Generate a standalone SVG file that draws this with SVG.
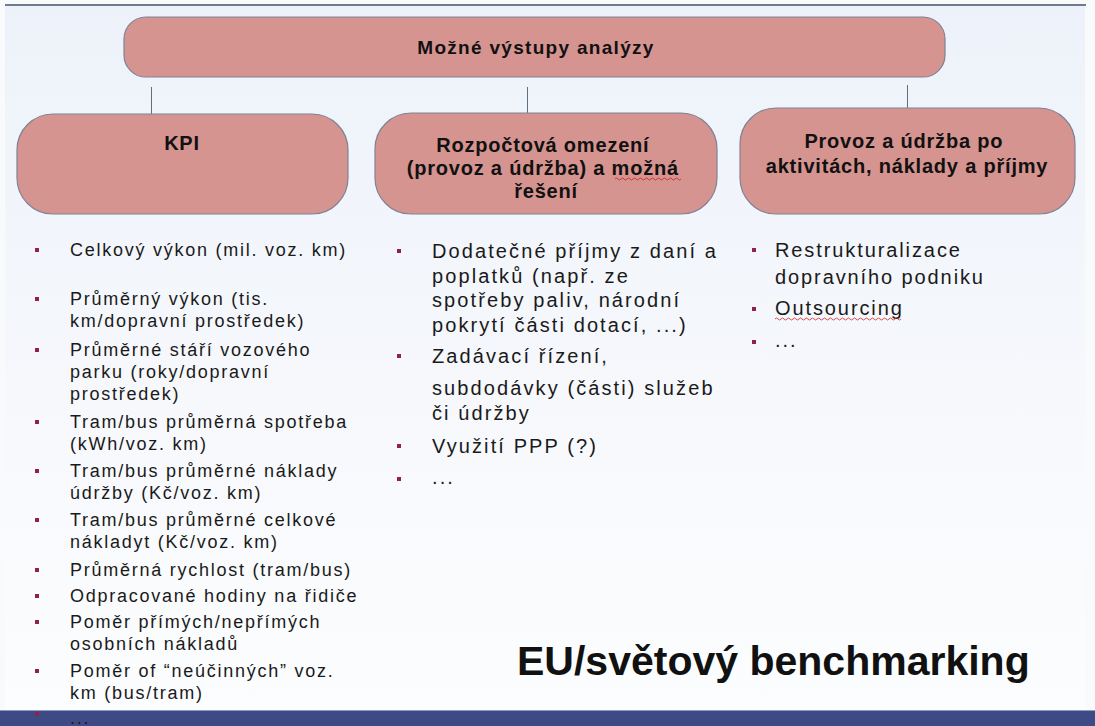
<svg xmlns="http://www.w3.org/2000/svg" width="1095" height="726" viewBox="0 0 1095 726">
  <defs>
    <linearGradient id="bg" x1="0" y1="0" x2="0" y2="1">
      <stop offset="0" stop-color="#edf2fa"/>
      <stop offset="0.55" stop-color="#f6f8fc"/>
      <stop offset="1" stop-color="#fcfdfe"/>
    </linearGradient>
    <style>
      .box { fill: #d69490; stroke: #7f8294; stroke-width: 1.2; }
      .conn { stroke: #5f6f80; stroke-width: 1; fill: none; }
      .head { font-family: "Liberation Sans", Arial, sans-serif; font-weight: bold; fill: #111; text-anchor: middle; font-size: 20px; letter-spacing: 0.8px; }
      .item { font-family: "Liberation Sans", Arial, sans-serif; fill: #1a1a1a; }
      .kpi { font-size: 18px; letter-spacing: 1.75px; }
      .mid { font-size: 20px; letter-spacing: 2.1px; }
      .ops { font-size: 20px; letter-spacing: 1.9px; }
      .bul { fill: #931f4b; }
      .squiggle { stroke: #d02020; stroke-width: 0.8; fill: none; }
      .big { font-family: "Liberation Sans", Arial, sans-serif; font-weight: bold; font-size: 41px; fill: #111; }
    </style>
  </defs>

  <!-- page background -->
  <rect x="0" y="0" width="1095" height="726" fill="#f9fafc"/>
  <rect x="5" y="5" width="1080" height="705" fill="url(#bg)"/>
  <line x1="5" y1="5" x2="1086" y2="5" stroke="#6e7b8c" stroke-width="2"/>
  <rect x="0" y="710" width="1095" height="16" fill="#3d4a85"/>
  <line x1="0" y1="710.5" x2="1095" y2="710.5" stroke="#8e9bc2" stroke-width="1"/>

  <!-- connectors -->
  <g id="connectors">
    <line class="conn" x1="151.5" y1="87" x2="151.5" y2="114"/>
    <line class="conn" x1="527.5" y1="87" x2="527.5" y2="113"/>
    <line class="conn" x1="907.5" y1="85" x2="907.5" y2="108"/>
  </g>

  <g id="root">
    <rect class="box" x="124" y="17" width="821" height="60" rx="22"/>
    <text class="head" x="536" y="54" style="font-size:19px;letter-spacing:1.3px">Možné výstupy analýzy</text>
  </g>

  <g id="kpi">
    <rect class="box" x="17" y="114" width="331" height="100" rx="36"/>
    <text class="head" x="182" y="150">KPI</text>
  </g>

  <g id="budget">
    <rect class="box" x="375" y="113" width="342" height="101" rx="36"/>
    <text class="head">
      <tspan x="546" y="152">Rozpočtová omezení</tspan>
      <tspan x="546" y="175">(provoz a údržba) a možná</tspan>
      <tspan x="546" y="198">řešení</tspan>
    </text>
    <path class="squiggle" d="M615 179 q1.5 -2 3 0 t3 0 t3 0 t3 0 t3 0 t3 0 t3 0 t3 0 t3 0 t3 0 t3 0 t3 0 t3 0 t3 0 t3 0 t3 0 t3 0 t3 0 t3 0 t3 0 t3 0 t3 0"/>
  </g>

  <g id="operations">
    <rect class="box" x="740" y="108" width="335" height="106" rx="36"/>
    <text class="head">
      <tspan x="907" y="148">Provoz a údržba po</tspan>
      <tspan x="907" y="173">aktivitách, náklady a příjmy</tspan>
    </text>
  </g>

  <!-- KPI list -->
  <g id="kpi-list">
    <g class="bul">
      <rect x="35" y="248" width="4" height="4"/>
      <rect x="35" y="297" width="4" height="4"/>
      <rect x="35" y="348" width="4" height="4"/>
      <rect x="35" y="420" width="4" height="4"/>
      <rect x="35" y="469" width="4" height="4"/>
      <rect x="35" y="518" width="4" height="4"/>
      <rect x="35" y="568" width="4" height="4"/>
      <rect x="35" y="594" width="4" height="4"/>
      <rect x="35" y="620" width="4" height="4"/>
      <rect x="35" y="669" width="4" height="4"/>
      <rect x="35" y="712" width="4" height="4"/>
    </g>
    <text class="item kpi">
      <tspan x="70" y="256">Celkový výkon (mil. voz. km)</tspan>
      <tspan x="70" y="305">Průměrný výkon (tis.</tspan>
      <tspan x="70" y="327">km/dopravní prostředek)</tspan>
      <tspan x="70" y="356">Průměrné stáří vozového</tspan>
      <tspan x="70" y="378">parku (roky/dopravní</tspan>
      <tspan x="70" y="400">prostředek)</tspan>
      <tspan x="70" y="428">Tram/bus průměrná spotřeba</tspan>
      <tspan x="70" y="450">(kWh/voz. km)</tspan>
      <tspan x="70" y="477">Tram/bus průměrné náklady</tspan>
      <tspan x="70" y="499">údržby (Kč/voz. km)</tspan>
      <tspan x="70" y="526">Tram/bus průměrné celkové</tspan>
      <tspan x="70" y="548">nákladyt (Kč/voz. km)</tspan>
      <tspan x="70" y="576">Průměrná rychlost (tram/bus)</tspan>
      <tspan x="70" y="602">Odpracované hodiny na řidiče</tspan>
      <tspan x="70" y="628">Poměr přímých/nepřímých</tspan>
      <tspan x="70" y="650">osobních nákladů</tspan>
      <tspan x="70" y="677">Poměr of “neúčinných” voz.</tspan>
      <tspan x="70" y="699">km (bus/tram)</tspan>
      <tspan x="70" y="724">...</tspan>
    </text>
  </g>

  <!-- budget list -->
  <g id="budget-list">
    <g class="bul">
      <rect x="397" y="249" width="4" height="4"/>
      <rect x="397" y="354" width="4" height="4"/>
      <rect x="397" y="444" width="4" height="4"/>
      <rect x="397" y="477" width="4" height="4"/>
    </g>
    <text class="item mid">
      <tspan x="432" y="258">Dodatečné příjmy z daní a</tspan>
      <tspan x="432" y="283">poplatků (např. ze</tspan>
      <tspan x="432" y="307">spotřeby paliv, národní</tspan>
      <tspan x="432" y="332">pokrytí části dotací, ...)</tspan>
      <tspan x="432" y="363">Zadávací řízení,</tspan>
      <tspan x="432" y="395">subdodávky (části) služeb</tspan>
      <tspan x="432" y="420">či údržby</tspan>
      <tspan x="432" y="453">Využití PPP (?)</tspan>
      <tspan x="432" y="484">...</tspan>
    </text>
  </g>

  <!-- operations list -->
  <g id="operations-list">
    <g class="bul">
      <rect x="752" y="248" width="4" height="4"/>
      <rect x="752" y="307" width="4" height="4"/>
      <rect x="752" y="340" width="4" height="4"/>
    </g>
    <text class="item ops">
      <tspan x="775" y="257">Restrukturalizace</tspan>
      <tspan x="775" y="284">dopravního podniku</tspan>
      <tspan x="775" y="315">Outsourcing</tspan>
      <tspan x="775" y="347">...</tspan>
    </text>
    <path class="squiggle" d="M775 319 q1.5 -2 3 0 t3 0 t3 0 t3 0 t3 0 t3 0 t3 0 t3 0 t3 0 t3 0 t3 0 t3 0 t3 0 t3 0 t3 0 t3 0 t3 0 t3 0 t3 0 t3 0 t3 0 t3 0 t3 0 t3 0 t3 0 t3 0 t3 0 t3 0 t3 0 t3 0 t3 0 t3 0 t3 0 t3 0 t3 0 t3 0 t3 0 t3 0 t3 0 t3 0 t3 0 t3 0"/>
  </g>

  <g id="benchmark">
    <text class="big" x="517" y="675">EU/světový benchmarking</text>
  </g>
</svg>
